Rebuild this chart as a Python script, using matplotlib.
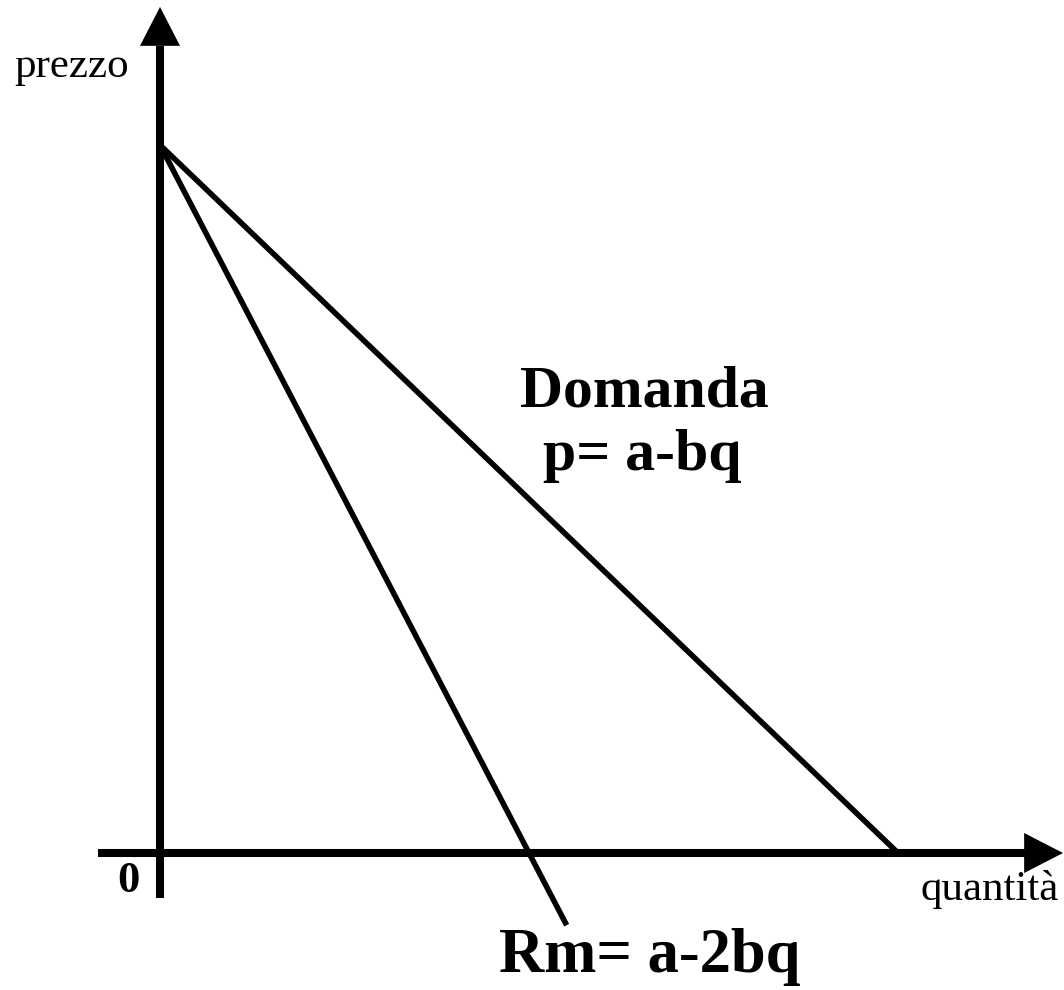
import matplotlib
matplotlib.use('Agg')
import matplotlib.pyplot as plt
import numpy as np

plt.rcParams['font.family'] = ['Liberation Serif', 'DejaVu Serif']

# parametri della domanda lineare p = a - b q
a = 10.0
b = 1.0
q_demand = np.array([0.0, a / b])            # dalla intercetta verticale a quella orizzontale
p_demand = a - b * q_demand
q_rm = np.array([0.0, 5.51])                  # ricavo marginale, prosegue sotto l'asse
p_rm = a - 2 * b * q_rm

axis_labels = ['prezzo', 'quantità']
curve_labels = ['Domanda', 'p= a-bq', 'Rm= a-2bq']

fig = plt.figure(figsize=(10.64, 9.9), dpi=100)
ax = fig.add_axes([0, 0, 1, 1])
ax.set_xlim(-2.168, 12.249)
ax.set_ylim(-1.935, 12.048)
ax.axis('off')

# curve
ax.plot(q_demand, p_demand, color='black', lw=4.0, solid_capstyle='butt')
ax.plot(q_rm, p_rm, color='black', lw=4.0, solid_capstyle='butt')

# assi
ax.plot([-0.84, 11.75], [0, 0], color='black', lw=5.8, solid_capstyle='butt')
ax.plot([0, 0], [-0.636, 11.40], color='black', lw=5.8, solid_capstyle='butt')
head = dict(arrowstyle='-|>,head_length=28,head_width=14.4', mutation_scale=1,
            lw=0, fc='black', ec='black', shrinkA=0, shrinkB=0)
ax.annotate('', xy=(12.236, 0), xytext=(11.70, 0), arrowprops=head)
ax.annotate('', xy=(0, 11.95), xytext=(0, 11.35), arrowprops=head)

# testi
ax.text(0.0677, 0.9222, axis_labels[0], transform=ax.transAxes, fontsize=31,
        ha='center', va='baseline')
ax.text(0.930, 0.0909, axis_labels[1], transform=ax.transAxes, fontsize=31,
        ha='center', va='baseline')
ax.text(0.1203, 0.0990, '0', transform=ax.transAxes, fontsize=32, fontweight='bold',
        ha='center', va='baseline')
ax.text(0.6053, 0.5889, curve_labels[0], transform=ax.transAxes, fontsize=43,
        fontweight='bold', ha='center', va='baseline')
ax.text(0.6034, 0.5253, curve_labels[1], transform=ax.transAxes, fontsize=43,
        fontweight='bold', ha='center', va='baseline')
ax.text(0.6109, 0.0182, curve_labels[2], transform=ax.transAxes, fontsize=45,
        fontweight='bold', ha='center', va='baseline')

plt.savefig('out.png', dpi=100)
